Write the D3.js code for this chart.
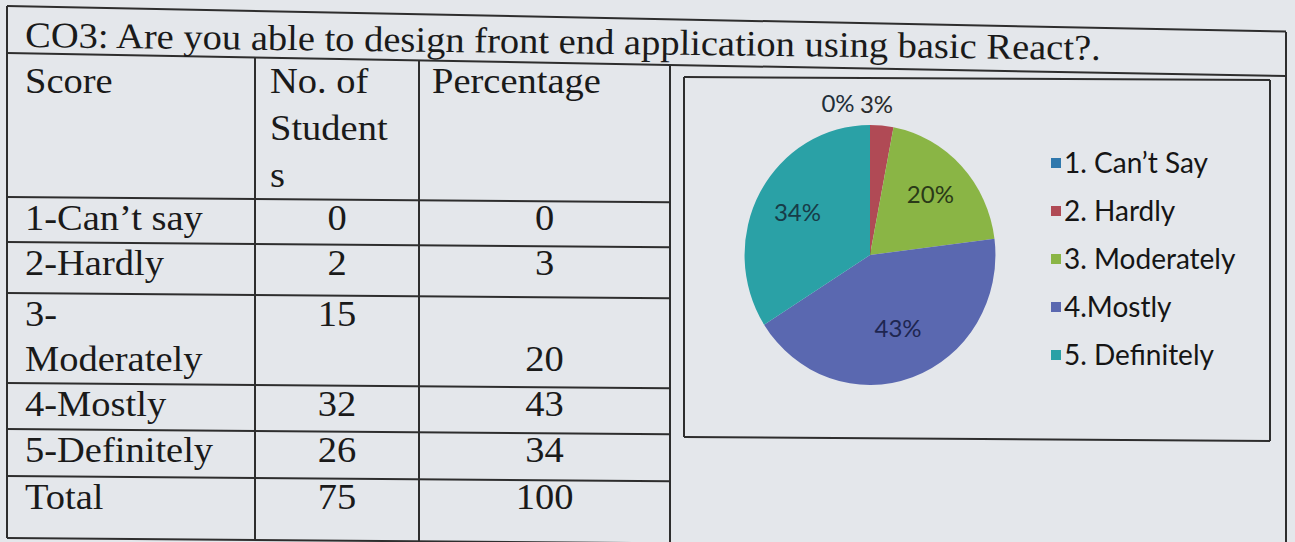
<!DOCTYPE html>
<html><head><meta charset="utf-8">
<script src="https://cdn.jsdelivr.net/npm/d3@7"></script>
<style>html,body{margin:0;padding:0;background:#e4e7eb;} svg{display:block}</style>
</head><body><svg id="c" width="1295" height="542"></svg>
<script>
// ---------- data ----------
const titleText = "CO3: Are you able to design front end application using basic React?.";
const headerLines = [["Score"], ["No. of", "Student", "s"], ["Percentage"]];
const scoreLines = [["1-Can’t say"], ["2-Hardly"], ["3-", "Moderately"], ["4-Mostly"], ["5-Definitely"], ["Total"]];
const studentCounts = [0, 2, 15, 32, 26, 75];
const percentValues = [0, 3, 20, 43, 34, 100];
const pieCategories = ["1. Can’t Say", "2. Hardly", "3. Moderately", "4.Mostly", "5. Definitely"];
const piePercents = [0, 3, 20, 43, 34];
const pieColors = ["#2f78ad", "#b04a55", "#8ab545", "#5a68b0", "#2aa1a6"];

// ---------- layout ----------
const svg = d3.select("#c");
const ink = "#1a1a1a", lineCol = "#2e2e2e";
const L = 7, R = 1286;
const colX = [L, 255, 419, 670];
const rowTops = [197, 242, 293, 383, 429, 476, 538];
const lineH = 45;
const serif = "'Liberation Serif','Times New Roman',serif";
const sans = "Lato,'Noto Sans',sans-serif";

svg.append("rect").attr("width", 1295).attr("height", 542).attr("fill", "#e4e7eb");

function hline(x1, x2, y1, slope) {
  svg.append("line").attr("x1", x1).attr("x2", x2)
    .attr("y1", y1 + slope * (x1 - L)).attr("y2", y1 + slope * (x2 - L))
    .attr("stroke", lineCol).attr("stroke-width", 2);
}
function vline(x, y1, y2) {
  svg.append("line").attr("x1", x).attr("x2", x).attr("y1", y1).attr("y2", y2)
    .attr("stroke", lineCol).attr("stroke-width", 2);
}
function txt(x, y, s, opts) {
  const o = Object.assign({ anchor: "start", size: 35, font: serif, rot: 0, stretch: 1.1 }, opts || {});
  svg.append("text")
    .attr("transform", `translate(${x},${y}) rotate(${o.rot}) scale(${o.stretch},1)`)
    .attr("text-anchor", o.anchor).attr("font-family", o.font).attr("font-size", o.size)
    .attr("fill", ink).text(s);
}

// outer frame and title row
hline(L, R, 6, 0.02);
hline(L, R, 53, 0.018);
hline(L, R, 538, 0.008);
vline(L, 6, 538);
vline(R, 32, 548);

// title
txt(25, 47, titleText, { size: 36, rot: 0.68, stretch: 1.07 });

// table grid
const titleLineAt = x => 53 + 0.018 * (x - L);
colX.slice(1).forEach(x => vline(x, titleLineAt(x), 538 + 0.008 * (x - L)));
rowTops.slice(0, -1).forEach(y => hline(L, colX[3], y, 0.008));

// headers
const textX = [25, 270, 432];
headerLines.forEach((lines, c) => {
  lines.forEach((s, i) => txt(textX[c], 93 + i * 47, s));
});

// rows
const centerX = c => (colX[c] + colX[c + 1]) / 2;
scoreLines.forEach((lines, r) => {
  const base = rowTops[r] + 33;
  lines.forEach((s, i) => txt(textX[0], base + i * lineH, s));
  // students: top-aligned, percentage: bottom-aligned (as in the document)
  txt(centerX(1), base, String(studentCounts[r]), { anchor: "middle" });
  txt(centerX(2), base + (lines.length - 1) * lineH, String(percentValues[r]), { anchor: "middle" });
});

// chart inner box
hline(684, 1270, 77 - 0.005 * (684 - L), 0.005);
hline(684, 1270, 437 - 0.007 * (684 - L), 0.007);
vline(684, 77, 437);
vline(1270, 80, 441);

// ---------- pie ----------
const cx = 870, cy = 255, rad = 130, sx = 0.965;
const pie = d3.pie().sort(null).value(d => d)(piePercents);
const arc = d3.arc().innerRadius(0).outerRadius(rad);
const labelArc = d3.arc().innerRadius(rad * 0.66).outerRadius(rad * 0.66);
const color = d3.scaleOrdinal().domain(pieCategories).range(pieColors);

const g = svg.append("g").attr("transform", `translate(${cx},${cy}) scale(${sx},1)`);
g.selectAll("path.slice").data(pie).join("path").attr("class", "slice")
  .attr("d", arc).attr("fill", (d, i) => color(pieCategories[i]))
  .attr("stroke", (d, i) => d.value === 0 ? d3.color(color(pieCategories[i])).darker(2) : "none")
  .attr("stroke-width", 2);

// data labels
const labelInk = ["#1f2f3a", "#2a2a2a", "#2a3a18", "#1e2650", "#173c48"];
pie.forEach((d, i) => {
  let x, y, anchor = "middle";
  if (d.value >= 5) {
    [x, y] = labelArc.centroid(d);
    y += 7;
    if (i === 3) y -= 6;
  } else {
    const mid = (d.startAngle + d.endAngle) / 2;
    x = (rad + 14) * Math.sin(mid);
    y = -(rad + 14) * Math.cos(mid) + 1;
    if (d.value === 0) { anchor = "end"; x -= 16; } else { anchor = "start"; x -= 24; }
  }
  svg.append("text").attr("x", cx + x * sx).attr("y", cy + y)
    .attr("text-anchor", anchor).attr("font-family", sans).attr("font-size", 24)
    .attr("fill", labelInk[i]).text(d.value + "%");
});

// legend
const ly = d3.scalePoint().domain(pieCategories).range([163, 355]);
const leg = svg.append("g");
pieCategories.forEach(c => {
  leg.append("rect").attr("x", 1051).attr("y", ly(c) - 5).attr("width", 10).attr("height", 10).attr("fill", color(c));
  leg.append("text").attr("x", 1064).attr("y", ly(c) + 10).attr("font-family", sans)
    .attr("font-size", 28).attr("fill", "#151515").text(c);
});
</script></body></html>
